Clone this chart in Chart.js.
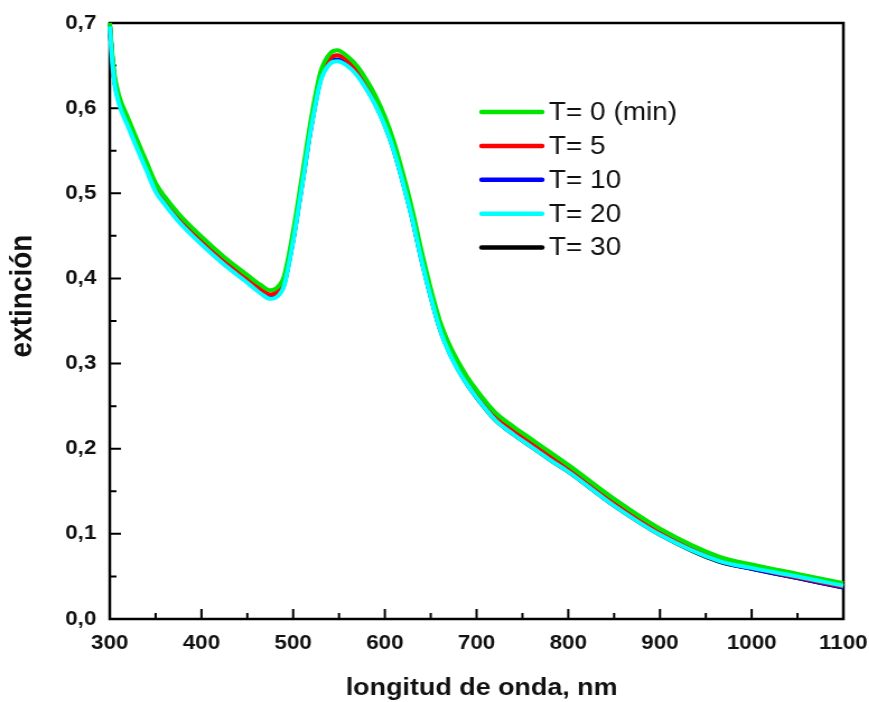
<!DOCTYPE html>
<html>
<head>
<meta charset="utf-8">
<script src="https://cdn.jsdelivr.net/npm/chart.js@4/dist/chart.umd.min.js"></script>
<style>
  body { margin: 0; background: #fff; }
  #wrap { width: 869px; height: 702px; overflow: hidden; }
  #spectra { transform: scaleX(1.12); transform-origin: 0 0; }
</style>
</head>
<body>
<div id="wrap"><canvas id="spectra" width="776" height="702"></canvas></div>
<script>
// wavelength (nm) of each sample
const wavelengths = [300, 302, 305, 310, 320, 330, 340, 350, 360, 375,
    400, 425, 450, 465, 475, 485, 490, 500, 510, 520,
    530, 540, 548, 560, 570, 580, 590, 600, 610, 620,
    630, 640, 650, 660, 670, 680, 690, 700, 720, 740,
    760, 780, 800, 850, 900, 965, 1000, 1050, 1100]

const t0 = [0.700, 0.672, 0.640, 0.615, 0.588, 0.562, 0.537, 0.512, 0.496, 0.476,
    0.449, 0.425, 0.404, 0.392, 0.386, 0.392, 0.402, 0.455, 0.522, 0.590,
    0.643, 0.664, 0.668, 0.660, 0.649, 0.633, 0.614, 0.590, 0.560, 0.522,
    0.480, 0.432, 0.388, 0.350, 0.323, 0.302, 0.284, 0.269, 0.243, 0.226,
    0.211, 0.196, 0.181, 0.141, 0.106, 0.073, 0.064, 0.053, 0.042]

const t5 = [0.698, 0.669, 0.636, 0.611, 0.584, 0.558, 0.533, 0.508, 0.492, 0.472,
    0.445, 0.421, 0.400, 0.387, 0.381, 0.387, 0.397, 0.450, 0.517, 0.585,
    0.638, 0.658, 0.662, 0.655, 0.644, 0.628, 0.609, 0.585, 0.555, 0.517,
    0.475, 0.427, 0.383, 0.345, 0.318, 0.297, 0.279, 0.264, 0.238, 0.221,
    0.206, 0.191, 0.176, 0.136, 0.101, 0.069, 0.060, 0.049, 0.038]

const t10 = [0.697, 0.667, 0.634, 0.609, 0.582, 0.556, 0.531, 0.505, 0.489, 0.469,
    0.442, 0.418, 0.397, 0.384, 0.378, 0.384, 0.394, 0.447, 0.514, 0.582,
    0.635, 0.654, 0.657, 0.651, 0.640, 0.624, 0.605, 0.581, 0.551, 0.513,
    0.471, 0.423, 0.380, 0.342, 0.315, 0.294, 0.276, 0.261, 0.235, 0.218,
    0.203, 0.188, 0.174, 0.134, 0.100, 0.068, 0.059, 0.048, 0.037]

const t20 = [0.696, 0.664, 0.630, 0.605, 0.578, 0.552, 0.527, 0.502, 0.487, 0.467,
    0.440, 0.416, 0.395, 0.382, 0.376, 0.381, 0.391, 0.444, 0.511, 0.579,
    0.632, 0.652, 0.655, 0.649, 0.638, 0.622, 0.603, 0.579, 0.549, 0.511,
    0.469, 0.421, 0.378, 0.340, 0.313, 0.292, 0.275, 0.260, 0.234, 0.217,
    0.202, 0.187, 0.173, 0.133, 0.099, 0.068, 0.060, 0.050, 0.039]

const t30 = [0.697, 0.666, 0.633, 0.608, 0.581, 0.555, 0.530, 0.504, 0.488, 0.468,
    0.441, 0.417, 0.396, 0.383, 0.377, 0.383, 0.393, 0.446, 0.513, 0.581,
    0.634, 0.653, 0.656, 0.650, 0.639, 0.623, 0.604, 0.580, 0.550, 0.512,
    0.470, 0.422, 0.379, 0.341, 0.314, 0.293, 0.275, 0.260, 0.234, 0.217,
    0.202, 0.187, 0.173, 0.133, 0.099, 0.067, 0.059, 0.048, 0.037]

const seriesLabels = ['T= 0 (min)', 'T= 5', 'T= 10', 'T= 20', 'T= 30']
const seriesColors = ['#00e600', '#ff0000', '#0000ff', '#00ffff', '#000000']
const seriesValues = [t0, t5, t10, t20, t30]
// lower order is painted on top: cyan last, black first
const drawOrder = [1, 2, 3, 0, 4]

const xTicks = [300, 400, 500, 600, 700, 800, 900, 1000, 1100]
const yTicks = [0, 0.1, 0.2, 0.3, 0.4, 0.5, 0.6, 0.7]

const xTitle = 'longitud de onda, nm'
const yTitle = 'extinción'

const FONT = "'Liberation Sans', Arial, sans-serif"

function points(values) {
    return values.map((v, i) => ({ x: wavelengths[i], y: v }))
}

// closed frame plus inward tick marks (major and minor)
const frame = {
    id: 'frame',
    beforeDatasetsDraw(chart) {
        const { ctx, chartArea: a, scales: { x, y } } = chart
        ctx.save()
        ctx.strokeStyle = '#000'
        ctx.lineWidth = 2.5
        ctx.strokeRect(a.left, a.top, a.right - a.left, a.bottom - a.top)

        ctx.lineWidth = 2
        ctx.beginPath()
        for (let v = xTicks[0]; v <= xTicks[xTicks.length - 1]; v += 50) {
            const px = x.getPixelForValue(v)
            const len = v % 100 === 0 ? 10 : 6
            ctx.moveTo(px, a.bottom)
            ctx.lineTo(px, a.bottom - len)
        }
        for (let k = 0; k <= 14; k++) {
            const py = y.getPixelForValue(k * 0.05)
            const len = k % 2 === 0 ? 10 : 6
            ctx.moveTo(a.left, py)
            ctx.lineTo(a.left + len, py)
        }
        ctx.stroke()
        ctx.restore()
    }
}

// axis titles
const axisTitles = {
    id: 'axisTitles',
    afterDraw(chart) {
        const ctx = chart.ctx
        ctx.save()
        ctx.fillStyle = '#111'
        ctx.textAlign = 'center'
        ctx.textBaseline = 'middle'
        ctx.font = 'bold 24px ' + FONT
        ctx.fillText(xTitle, 430, 688)

        ctx.translate(20, 296)
        ctx.rotate(-Math.PI / 2)
        ctx.font = 'bold 28px ' + FONT
        ctx.fillText(yTitle, 0, 0)
        ctx.restore()
    }
}

// legend inside the plot, upper right
const legendBox = {
    id: 'legendBox',
    afterDraw(chart) {
        const ctx = chart.ctx
        chart.data.datasets.forEach((ds, i) => {
            const y = 112 + i * 33.9
            ctx.save()
            ctx.strokeStyle = ds.borderColor
            ctx.lineWidth = 4.5
            ctx.lineCap = 'round'
            ctx.beginPath()
            ctx.moveTo(430, y)
            ctx.lineTo(484, y)
            ctx.stroke()
            ctx.fillStyle = '#111'
            ctx.font = '25px ' + FONT
            ctx.textBaseline = 'middle'
            ctx.fillText(ds.label, 490, y + 1)
            ctx.restore()
        })
    }
}

new Chart(document.getElementById('spectra'), {
    type: 'line',
    data: {
        datasets: seriesValues.map((vals, i) => ({
            label: seriesLabels[i],
            data: points(vals),
            borderColor: seriesColors[i],
            backgroundColor: seriesColors[i],
            borderWidth: 4,
            pointRadius: 0,
            cubicInterpolationMode: 'monotone',
            order: drawOrder[i],
            clip: 3
        }))
    },
    options: {
        responsive: false,
        animation: false,
        devicePixelRatio: 1,
        layout: { padding: { top: 23, right: 23, left: 0, bottom: 0 } },
        plugins: {
            legend: { display: false },
            tooltip: { enabled: false }
        },
        scales: {
            x: {
                type: 'linear',
                min: 300,
                max: 1100,
                afterFit(scale) {
                    scale.height = 83
                    // end labels may hang into the side margins
                    scale.paddingLeft = 0
                    scale.paddingRight = 0
                },
                afterBuildTicks(scale) { scale.ticks = xTicks.map(v => ({ value: v })) },
                grid: { display: false, drawTicks: false },
                border: { display: false },
                ticks: {
                    padding: 12,
                    autoSkip: false,
                    maxRotation: 0,
                    color: '#111',
                    font: { family: FONT, size: 20, weight: 'bold' },
                    callback: v => String(v)
                }
            },
            y: {
                min: 0,
                max: 0.7,
                afterFit(scale) {
                    scale.width = 98
                    scale.paddingTop = 0
                    scale.paddingBottom = 0
                },
                afterBuildTicks(scale) { scale.ticks = yTicks.map(v => ({ value: v })) },
                grid: { display: false, drawTicks: false },
                border: { display: false },
                ticks: {
                    padding: 12,
                    color: '#111',
                    font: { family: FONT, size: 20, weight: 'bold' },
                    callback: v => v.toFixed(1).replace('.', ',')
                }
            }
        }
    },
    plugins: [frame, axisTitles, legendBox]
})
</script>
</body>
</html>
